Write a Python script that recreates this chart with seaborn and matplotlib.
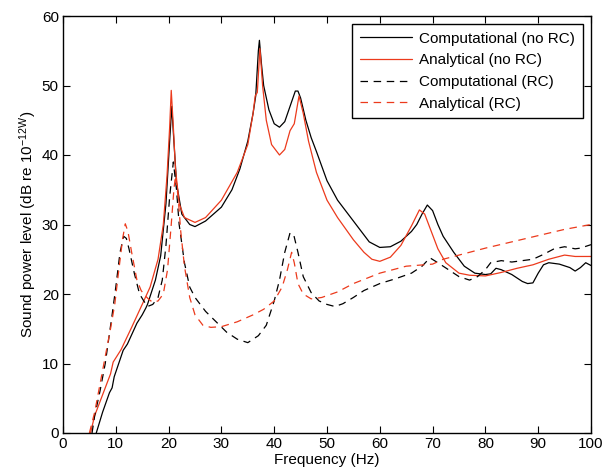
import numpy as np
import pandas as pd
import matplotlib
matplotlib.use("Agg")
import matplotlib.pyplot as plt
import seaborn as sns

# ---- data ----
comp_norc_f = [6.3, 7.5, 8.8, 9.3, 9.7, 11.4, 12.2, 14.0, 15.0, 15.7, 16.0, 17.5, 18.5, 19.5, 20.2, 20.6,
               21.0, 21.5, 22.5, 24.0, 25.0, 27.0, 30.0, 32.0, 33.5, 35.0, 36.0, 36.5, 37.0, 37.2, 37.6,
               38.0, 39.0, 40.0, 41.0, 42.0, 43.0, 44.0, 44.5, 45.0, 46.0, 47.0, 48.0, 50.0, 52.0, 55.0,
               57.0, 58.0, 60.0, 62.0, 64.0, 66.0, 67.0, 68.0, 69.0, 70.0, 71.0, 72.0, 74.0, 76.0, 78.0,
               80.0, 81.0, 82.0, 83.0, 85.0, 87.0, 88.0, 89.0, 90.0, 91.0, 92.0, 94.0, 96.0, 97.0, 98.0,
               99.0, 100.0]
comp_norc_db = [0.0, 3.0, 5.8, 6.5, 8.1, 11.9, 12.8, 15.8, 17.0, 18.0, 18.5, 22.0, 25.5, 33.0, 42.0, 47.0,
                42.0, 36.0, 31.5, 30.0, 29.7, 30.5, 32.5, 35.0, 38.0, 42.0, 46.0, 48.5, 55.0, 56.5, 53.0,
                50.0, 46.5, 44.5, 44.0, 44.8, 47.0, 49.2, 49.2, 48.2, 45.0, 42.5, 40.5, 36.3, 33.5, 30.5,
                28.5, 27.5, 26.7, 26.8, 27.6, 29.0, 30.0, 31.5, 32.8, 32.0, 30.0, 28.3, 26.0, 24.0, 23.0,
                22.8, 22.9, 23.7, 23.5, 22.8, 21.8, 21.5, 21.6, 23.0, 24.2, 24.5, 24.3, 23.8, 23.3, 23.8,
                24.5, 24.1]

anal_norc_f = [5.2, 6.0, 7.5, 9.0, 9.5, 11.0, 13.0, 15.0, 16.5, 18.0, 19.0, 19.7, 20.2, 20.5, 20.9, 21.3,
               22.0, 23.0, 25.0, 27.0, 30.0, 33.0, 35.0, 36.0, 36.4, 36.8, 37.3, 37.8, 38.5, 39.5, 41.0,
               42.0, 43.0, 43.8, 44.7, 45.5, 46.5, 48.0, 50.0, 52.0, 55.0, 57.0, 58.5, 60.0, 62.0, 64.0,
               66.0, 67.5, 68.5, 69.5, 71.0, 72.5, 75.0, 77.0, 80.0, 83.0, 86.0, 89.0, 92.0, 95.0, 97.0,
               100.0]
anal_norc_db = [0.0, 2.5, 5.5, 8.5, 10.2, 12.0, 15.2, 18.5, 21.0, 25.0, 30.0, 37.0, 44.0, 49.3, 44.0, 38.0,
                33.0, 31.0, 30.3, 31.0, 33.5, 37.5, 41.5, 46.0, 48.5, 49.0, 55.3, 50.0, 45.0, 41.5, 40.0,
                40.8, 43.5, 44.5, 48.5, 46.0, 42.0, 37.5, 33.5, 31.0, 27.8, 26.0, 25.0, 24.7, 25.3, 27.0,
                29.8, 32.1, 31.5, 29.5, 26.5, 24.5, 23.0, 22.7, 22.6, 23.1, 23.7, 24.2, 25.0, 25.6, 25.4,
                25.4]

comp_rc_f = [5.5, 6.0, 7.0, 8.0, 9.3, 10.0, 10.8, 11.5, 12.0, 12.5, 13.5, 14.5, 15.3, 16.0, 17.0, 18.0,
             18.8, 19.5, 20.2, 20.9, 21.5, 22.0, 23.0, 24.0, 25.0, 27.0, 29.0, 31.0, 33.0, 35.0, 37.0,
             38.5, 40.0, 41.0, 42.0, 43.0, 43.7, 44.5, 45.5, 47.0, 48.5, 50.0, 51.5, 53.0, 55.0, 57.0,
             60.0, 63.0, 66.0, 68.0, 69.5, 71.0, 73.0, 75.0, 77.0, 78.5, 80.0, 81.0, 83.0, 85.0, 87.0,
             89.0, 91.0, 93.0, 95.0, 97.0, 98.0, 100.0]
comp_rc_db = [0.0, 2.5, 6.0, 10.0, 17.0, 21.0, 26.0, 28.3, 28.0, 26.5, 23.0, 20.0, 19.0, 18.2, 18.5, 19.5,
              22.0, 27.0, 34.0, 39.0, 35.0, 30.0, 24.5, 21.0, 19.5, 17.5, 16.0, 14.5, 13.5, 13.0, 14.0,
              15.5, 19.0, 22.0, 26.0, 28.8, 28.5, 26.0, 22.5, 20.2, 19.0, 18.5, 18.2, 18.6, 19.5, 20.5,
              21.5, 22.2, 23.0, 24.0, 25.2, 24.5, 23.5, 22.5, 22.0, 22.5, 23.5, 24.5, 24.8, 24.6, 24.8,
              25.0, 25.7, 26.5, 26.8, 26.5, 26.6, 27.1]

anal_rc_f = [5.0, 6.0, 7.0, 8.0, 9.0, 9.8, 10.5, 11.3, 11.8, 12.3, 13.0, 14.0, 14.8, 15.5, 16.3, 17.0,
             18.0, 19.0, 19.8, 20.5, 21.0, 21.3, 21.8, 22.3, 23.0, 24.0, 25.0, 26.5, 28.0, 30.0, 33.0,
             36.0, 38.0, 40.0, 41.5, 42.5, 43.3, 43.8, 44.5, 45.5, 47.0, 49.0, 52.0, 55.0, 60.0, 65.0,
             70.0, 72.0, 75.0, 80.0, 85.0, 90.0, 95.0, 100.0]
anal_rc_db = [0.0, 3.0, 7.0, 11.0, 15.0, 18.5, 23.0, 28.0, 30.1, 29.0, 26.0, 22.0, 20.5, 19.8, 19.2, 18.8,
              19.0, 20.0, 23.5, 30.0, 35.0, 37.0, 34.0, 29.0, 24.0, 19.5, 17.0, 15.5, 15.2, 15.3, 16.0,
              17.0, 17.8, 19.0, 21.0, 23.5, 26.0, 24.5, 21.5, 20.0, 19.3, 19.5, 20.3, 21.5, 23.0, 24.0,
              24.3, 25.0, 25.6, 26.6, 27.5, 28.4, 29.3, 30.0]

series_names = ["Computational (no RC)", "Analytical (no RC)", "Computational (RC)", "Analytical (RC)"]
x_ticks = list(range(0, 101, 10))
y_ticks = list(range(0, 61, 10))

# ---- build long-form table ----
frames = []
for name, f, d in zip(series_names,
                      [comp_norc_f, anal_norc_f, comp_rc_f, anal_rc_f],
                      [comp_norc_db, anal_norc_db, comp_rc_db, anal_rc_db]):
    frames.append(pd.DataFrame({"freq": f, "level": d, "series": name}))
df = pd.concat(frames, ignore_index=True)

sns.set_theme(style="white")
plt.rcParams["font.family"] = ["Liberation Sans", "DejaVu Sans"]
plt.rcParams["mathtext.default"] = "regular"

RED = "#ec3a1c"
palette = {series_names[0]: "black", series_names[1]: RED,
           series_names[2]: "black", series_names[3]: RED}
dashes = {series_names[0]: "", series_names[1]: "",
          series_names[2]: (6, 4.5), series_names[3]: (6, 4.5)}

FS = 11

fig = plt.figure(figsize=(6.04, 4.75), dpi=100)
ax = fig.add_axes([63 / 604, 1 - 433 / 475, (591 - 63) / 604, (433 - 16) / 475])

sns.lineplot(data=df, x="freq", y="level", hue="series", style="series",
             hue_order=series_names, style_order=series_names,
             palette=palette, dashes=dashes, estimator=None, sort=False,
             linewidth=0.9, ax=ax)

ax.set_xlim(0, 100)
ax.set_ylim(0, 60)
ax.set_xticks(x_ticks)
ax.set_yticks(y_ticks)
ax.tick_params(direction="in", length=5, width=0.8, top=True, right=True,
               labelsize=FS, colors="black", pad=3,
               bottom=True, left=True)
for s in ax.spines.values():
    s.set_visible(True)
    s.set_color("black")
    s.set_linewidth(1.0)

ax.set_xlabel("Frequency (Hz)", fontsize=FS, color="black", labelpad=1)
ax.set_ylabel("Sound power level (dB re 10$^{-12W}$)", fontsize=FS, color="black", labelpad=2)

leg = ax.legend(loc="upper right", bbox_to_anchor=(1 - 8 / 528, 1 - 8 / 417),
                fontsize=FS, frameon=True, fancybox=False, handlelength=3.4,
                borderpad=0.5, labelspacing=0.5, handletextpad=0.5, borderaxespad=0)
leg.get_frame().set_edgecolor("black")
leg.get_frame().set_linewidth(1.0)
leg.get_frame().set_alpha(1)
for t in leg.get_texts():
    t.set_color("black")

fig.savefig("out.png", dpi=100)
